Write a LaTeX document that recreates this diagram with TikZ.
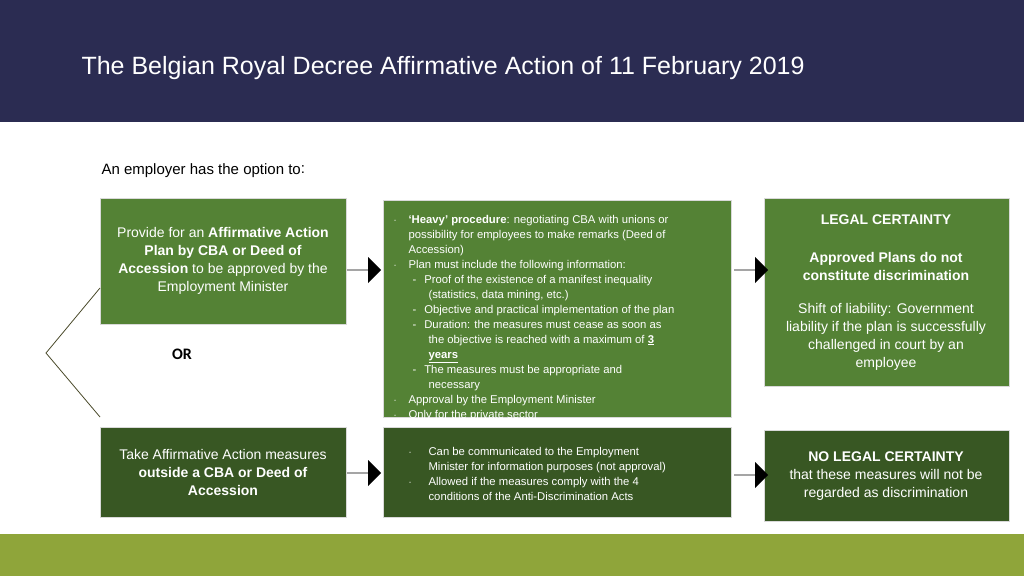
\documentclass[tikz,border=0pt]{standalone}
\usepackage{fontspec}
\setmainfont{Liberation Sans}
\newfontfamily\carlitofont{Carlito}
\usetikzlibrary{shapes.arrows}
\definecolor{navy}{HTML}{2B2C52}
\definecolor{gmid}{HTML}{548235}
\definecolor{gdark}{HTML}{385723}
\definecolor{olive}{HTML}{8FA53A}
\definecolor{lineg}{HTML}{4A4A2A}
\tikzset{
 box/.style={fill=#1,draw=white!85!black,line width=0.5pt,inner sep=0pt},
 btxt/.style={text=white,font=\fontsize{14}{18}\selectfont,align=center},
 stxt/.style={text=white,font=\fontsize{11.3}{15}\selectfont,align=left,anchor=north west},
 barrow/.style={single arrow,fill=black,minimum height=34pt,minimum width=26pt,single arrow head extend=6pt,inner sep=0pt,shape border rotate=0}
}
\begin{document}
\begin{tikzpicture}[x=1pt,y=-1pt]
\useasboundingbox (0,0) rectangle (1024,576);
\fill[navy] (0,0) rectangle (1024,122);
\fill[olive] (0,534) rectangle (1024,576);
\node[anchor=west,text=white,font=\fontsize{25}{30}\selectfont] (title) at (78,68) {The Belgian Royal Decree Affirmative Action of 11 February 2019};
\node[anchor=west,font=\fontsize{15}{18}\selectfont] (intro) at (98,171) {An employer has the option to\raisebox{1pt}{:}};
% boxes
\draw[box=gmid] (100,198) rectangle (346,324) node[midway] (a) {};
\draw[box=gmid] (383,200) rectangle (731,417) node[midway] (b) {};
\draw[box=gmid] (764,198) rectangle (1009,386) node[midway] (c) {};
\draw[box=gdark] (100,427) rectangle (346,517) node[midway] (d) {};
\draw[box=gdark] (383,427) rectangle (731,517) node[midway] (e) {};
\draw[box=gdark] (764,430) rectangle (1009,521) node[midway] (f) {};
\node[btxt] (at) at (223,261) {Provide for an \textbf{Affirmative Action}\\\textbf{Plan by CBA or Deed of}\\\textbf{Accession} to be approved by the\\Employment Minister};
\node[btxt] (dt) at (223,472) {Take Affirmative Action measures\\\textbf{outside a CBA or Deed of}\\\textbf{Accession}};
\node[btxt] (ct) at (886,220) {\textbf{LEGAL CERTAINTY}};
\node[btxt] (ct2) at (886,266) {\textbf{Approved Plans do not}\\\textbf{constitute discrimination}};
\node[btxt] (ct3) at (886,337) {Shift of liability: Government\\liability if the plan is successfully\\challenged in court by an\\employee};
\node[btxt] (ft) at (886,476) {\textbf{NO LEGAL CERTAINTY}\\that these measures will not be\\regarded as discrimination};
\node[font=\carlitofont\bfseries\fontsize{16}{18}\selectfont] (or) at (182,354) {OR};
% B text
\node[stxt] (bt) at (390,209) {%
\begin{tabular}{@{}l@{\hspace{12pt}}p{300pt}@{}}
$\cdot$ & \textbf{‘Heavy’ procedure}: negotiating CBA with unions or\\
 & possibility for employees to make remarks (Deed of\\
 & Accession)\\
$\cdot$ & Plan must include the following information:\\
 & \hspace{4pt}-\hspace{8pt}Proof of the existence of a manifest inequality\\
 & \hspace{20pt}(statistics, data mining, etc.)\\
 & \hspace{4pt}-\hspace{8pt}Objective and practical implementation of the plan\\
 & \hspace{4pt}-\hspace{8pt}Duration: the measures must cease as soon as\\
 & \hspace{20pt}the objective is reached with a maximum of \textbf{\underline{3}}\\
 & \hspace{20pt}\textbf{\underline{years}}\\
 & \hspace{4pt}-\hspace{8pt}The measures must be appropriate and\\
 & \hspace{20pt}necessary\\
$\cdot$ & Approval by the Employment Minister\\
$\cdot$ & Only for the private sector
\end{tabular}};
\node[stxt] (et) at (405,441) {%
\begin{tabular}{@{}l@{\hspace{17pt}}l@{}}
$\cdot$ & Can be communicated to the Employment\\
 & Minister for information purposes (not approval)\\
$\cdot$ & Allowed if the measures comply with the 4\\
 & conditions of the Anti-Discrimination Acts
\end{tabular}};
% arrows
\node[barrow] (ar1) at (364,270) {};
\node[barrow] (ar2) at (751,270) {};
\node[barrow] (ar3) at (364,473) {};
\node[barrow] (ar4) at (751,475) {};
% bracket
\coordinate (p1) at (100,288);
\coordinate (p2) at (46,353);
\coordinate (p3) at (100,417);
\draw[lineg,line width=0.8pt] (p1) -- (p2) -- (p3);
\end{tikzpicture}
\end{document}
